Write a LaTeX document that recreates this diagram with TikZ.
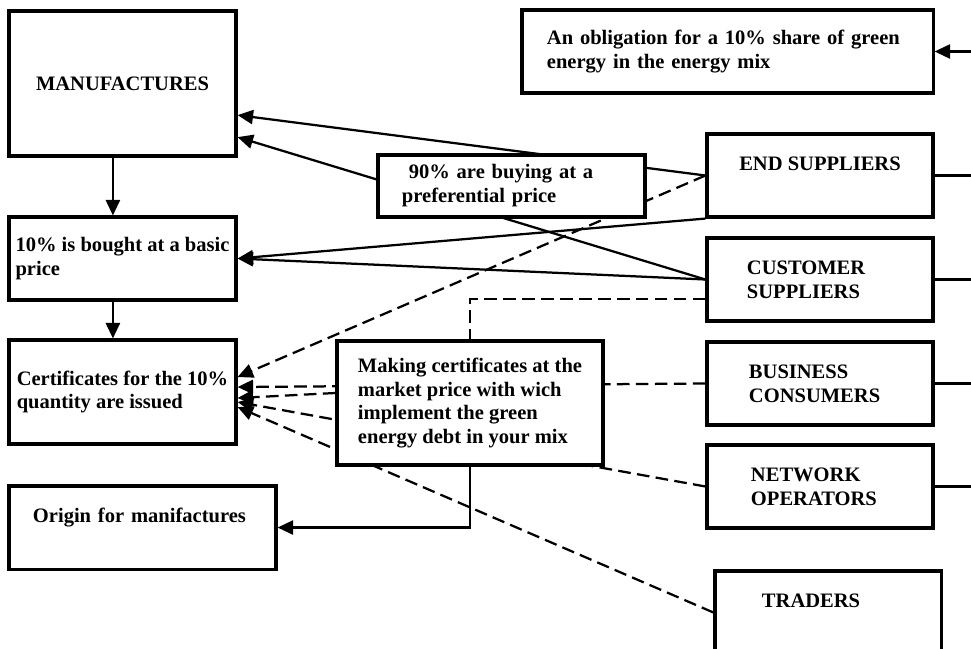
\documentclass[tikz,border=0pt]{standalone}
\usepackage{fontspec}
\setmainfont{Liberation Serif}
\usetikzlibrary{positioning, arrows.meta, backgrounds}
\newcommand{\boxfont}{\fontsize{14.6pt}{17pt}\selectfont\bfseries}
\tikzset{
  box/.style={draw, line width=2.2pt, fill=white, align=left, minimum width=5.65cm, minimum height=2.075cm, font=\boxfont},
  arr/.style={line width=1.6pt, -{Triangle[length=11pt, width=10pt]}},
  dasharr/.style={arr, dash pattern=on 9pt off 4.5pt},
  dashln/.style={line width=1.6pt, dash pattern=on 9pt off 4.5pt},
  ln/.style={line width=1.6pt}
}

\begin{document}
\begin{tikzpicture}[x=0.025cm, y=-0.025cm]
    \useasboundingbox (0,0) rectangle (971,649);
    \coordinate (rbus) at (971,0);

    \node[box, align=center, minimum width=5.675cm, minimum height=3.625cm] (manuf) at (122.5,83.5) {MANUFACTURES};
    \node[box, minimum width=5.675cm, below=1.447cm of manuf] (basic)
      {10\% is bought at a basic\\price};
    \node[box, minimum width=5.675cm, minimum height=2.6cm, below=0.922cm of basic] (cert)
      {Certificates for the 10\%\\quantity are issued};
    \node[box, minimum width=6.675cm, text width=5.475cm, inner xsep=0.6cm, below=0.972cm of cert.south west, anchor=north west] (origin)
      {Origin for manifactures\\ \mbox{}};

    \node[box, minimum width=10.275cm, text width=9.025cm, inner xsep=0.625cm] (obl) at (727.5,51.5)
      {An obligation for a 10\% share of green\\energy in the energy mix};

    \node[box, align=center] (endsup) at (820,175.5) {END SUPPLIERS\\ \mbox{}};
    \node[box, text width=3.65cm, inner xsep=1cm, below=0.447cm of endsup] (custsup)
      {CUSTOMER\\SUPPLIERS};
    \node[box, text width=3.55cm, inner xsep=1.05cm, below=0.447cm of custsup] (business)
      {BUSINESS\\CONSUMERS};
    \node[box, text width=3.45cm, inner xsep=1.1cm, below=0.422cm of business] (network)
      {NETWORK\\OPERATORS};
    \node[box, text width=3.3cm, inner xsep=1.175cm, below=0.997cm of network, xshift=0.2cm] (traders)
      {TRADERS\\ \mbox{}};

    \node[box, minimum width=6.675cm, minimum height=1.55cm, text width=5.475cm, inner xsep=0.6cm] (ninety) at (511.5,186)
      {\ 90\% are buying at a\\preferential price};
    \node[box, minimum width=6.65cm, minimum height=3.1cm] (making) at (470,403)
      {Making certificates at the\\market price with wich\\implement the green\\energy debt in your mix};

    \begin{scope}[on background layer]
      \draw[arr] (endsup.west) -- ([yshift=-0.79cm]manuf.east);
      \draw[arr] (custsup.west) -- ([yshift=-1.34cm]manuf.east);
      \draw[arr] (endsup.south west) -- (basic.east);
      \draw[arr] (custsup.west) -- (basic.east);
      \draw[dasharr] (endsup.west) -- ([yshift=0.375cm]cert.east);
      \draw[dashln] ([yshift=-0.49cm]custsup.west) -| (making.north);
      \draw[dasharr] (business.west) -- ([yshift=0.125cm]cert.east);
      \draw[dasharr] ([yshift=0.25cm]making.west) -- ([yshift=-0.15cm]cert.east);
      \draw[dasharr] (network.west) -- ([yshift=-0.25cm]cert.east);
      \draw[dasharr] (traders.west) -- ([yshift=-0.375cm]cert.east);
    \end{scope}

    \draw[arr] ([xshift=-0.24cm]manuf.south) -- ([xshift=-0.24cm]basic.north);
    \draw[arr] ([xshift=-0.24cm]basic.south) -- ([xshift=-0.24cm]cert.north);
    \draw[arr] (making.south) |- (origin.east);
    \draw[arr] (obl.east -| rbus) -- (obl.east);
    \foreach \n in {endsup, custsup, business, network}
      \draw[ln] (\n.east) -- (\n.east -| rbus);
  \end{tikzpicture}
\end{document}
